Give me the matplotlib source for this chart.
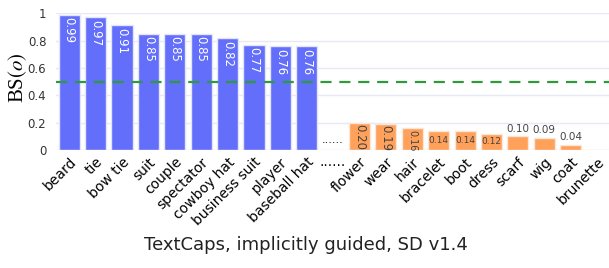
import matplotlib.pyplot as plt
import numpy as np

plt.rcParams["mathtext.fontset"] = "stix"

top_words = ["beard", "tie", "bow tie", "suit", "couple", "spectator",
             "cowboy hat", "business suit", "player", "baseball hat"]
top_scores = [0.99, 0.97, 0.91, 0.85, 0.85, 0.85, 0.82, 0.77, 0.76, 0.76]

bottom_words = ["flower", "wear", "hair", "bracelet", "boot", "dress",
                "scarf", "wig", "coat", "brunette"]
bottom_scores = [0.20, 0.19, 0.16, 0.14, 0.14, 0.12, 0.10, 0.09, 0.04, 0.0]

GAP_LABEL = "......"
THRESHOLD = 0.5
TITLE = "TextCaps, implicitly guided, SD v1.4"

BLUE = "#636EFA"
ORANGE = "#FFA15A"
GRID = "#E6EAF4"
TEXT_DARK = "#444444"

fig = plt.figure(figsize=(6.09, 2.68), dpi=100)
ax = fig.add_axes([0.092, 0.440, 0.910, 0.511])

labels = top_words + [GAP_LABEL] + bottom_words
x_top = np.arange(len(top_words))
x_bot = np.arange(len(bottom_words)) + len(top_words) + 1
gap_x = len(top_words)

ax.bar(x_top, top_scores, width=0.8, color=BLUE, edgecolor="#E3E6FA",
       linewidth=1.0, zorder=2)
ax.bar(x_bot, bottom_scores, width=0.8, color=ORANGE, edgecolor="#FBE7D8",
       linewidth=1.0, zorder=2)

# value labels, mimicking plotly's "auto" text placement
for xi, v in zip(x_top, top_scores):
    ax.annotate(f"{v:.2f}", (xi, v), xytext=(0, -2), textcoords="offset points",
                rotation=-90, ha="center", va="top", color="white",
                fontsize=8.5, zorder=3)
for xi, v in zip(x_bot, bottom_scores):
    if v <= 0:
        continue
    if v >= 0.15:
        ax.annotate(f"{v:.2f}", (xi, v), xytext=(0, -1), textcoords="offset points",
                    rotation=-90, ha="center", va="top", color=TEXT_DARK,
                    fontsize=8.5 if v > 0.17 else 7, zorder=3)
    elif v >= 0.11:
        ax.annotate(f"{v:.2f}", (xi, v / 2), ha="center", va="center",
                    color=TEXT_DARK, fontsize=6.5, zorder=3)
    else:
        ax.annotate(f"{v:.2f}", (xi, v), xytext=(0, 2), textcoords="offset points",
                    ha="center", va="bottom", color=TEXT_DARK, fontsize=7.5, zorder=3)

ax.text(gap_x, 0.04, GAP_LABEL, ha="center", va="bottom", fontsize=8, color="black")

ax.axhline(THRESHOLD, color="#2E9A3A", linestyle=(0, (5, 3.5)), linewidth=1.6, zorder=4)

ax.set_xlim(-0.5, len(labels) - 0.5)
ax.set_ylim(0, 1.0)
ax.set_yticks([0, 0.2, 0.4, 0.6, 0.8, 1.0])
ax.set_yticklabels(["0", "0.2", "0.4", "0.6", "0.8", "1"])
ax.grid(axis="y", color=GRID, linewidth=1.0, zorder=0)
ax.set_axisbelow(True)
for s in ax.spines.values():
    s.set_visible(False)
ax.tick_params(axis="both", length=0, labelsize=8.5, colors="#333333")
ax.tick_params(axis="y", pad=7)

ax.set_xticks(np.arange(len(labels)))
ax.set_xticklabels(labels)
for t, lab in zip(ax.get_xticklabels(), labels):
    t.set_color("black")
    t.set_fontsize(10)
    if lab == GAP_LABEL:
        t.set_rotation(0)
        t.set_ha("center")
    else:
        t.set_rotation(45)
        t.set_ha("right")
        t.set_rotation_mode("anchor")

ax.set_ylabel(r"BS$(o)$", fontsize=15, family="Liberation Serif", va="center")
ax.yaxis.set_label_coords(-0.069, 0.53)
fig.text(0.503, 0.085, TITLE, ha="center", va="center", fontsize=13, color="#222222")

fig.savefig("out.png", dpi=100)
